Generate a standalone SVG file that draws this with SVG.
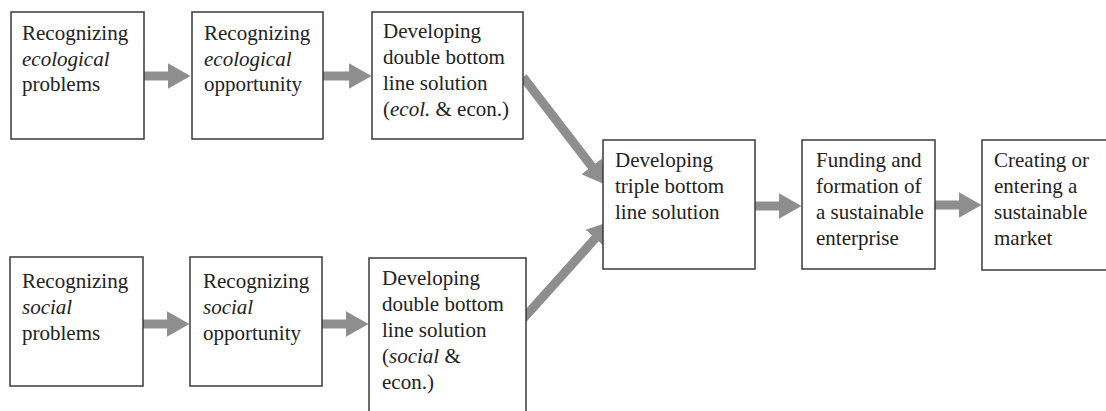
<svg xmlns="http://www.w3.org/2000/svg" width="1106" height="411" viewBox="0 0 1106 411">
<style>
.box{fill:#fff;stroke:#3a3a3a;stroke-width:1.5}
.t{font-family:'Liberation Serif','Times New Roman',Times,'DejaVu Serif','Noto Serif',serif;font-size:21px;fill:#222}
.i{font-style:italic}
.arr{stroke:#8e8e8e;stroke-width:9;fill:none;marker-end:url(#ah)}
</style>
<defs>
<marker id="ah" markerUnits="userSpaceOnUse" markerWidth="24" markerHeight="26" refX="0.5" refY="13" orient="auto">
<path d="M0,0 L23,13 L0,26 z" fill="#8e8e8e"/>
</marker>
</defs>
<rect width="1106" height="411" fill="#fff"/>
<g id="connectors">
<line class="arr" x1="144" y1="76" x2="168" y2="76"/>
<line class="arr" x1="323" y1="76" x2="349" y2="76"/>
<line class="arr" x1="143" y1="324" x2="167" y2="324"/>
<line class="arr" x1="322" y1="324" x2="346" y2="324"/>
<line class="arr" x1="523" y1="77" x2="592" y2="166.8"/>
<line class="arr" x1="522" y1="320" x2="595.6" y2="238.1"/>
<line class="arr" x1="755" y1="206" x2="779" y2="206"/>
<line class="arr" x1="935" y1="205" x2="959" y2="205"/>
</g>
<g id="n1">
<rect class="box" x="11" y="12" width="133" height="127"/>
<text class="t" x="22" y="40">Recognizing</text>
<text class="t i" x="22" y="65.5">ecological</text>
<text class="t" x="22" y="91">problems</text>
</g>
<g id="n2">
<rect class="box" x="192" y="12" width="131" height="127"/>
<text class="t" x="204" y="40">Recognizing</text>
<text class="t i" x="204" y="65.5">ecological</text>
<text class="t" x="204" y="91">opportunity</text>
</g>
<g id="n3">
<rect class="box" x="372" y="12" width="151" height="127"/>
<text class="t" x="383" y="38">Developing</text>
<text class="t" x="383" y="64">double bottom</text>
<text class="t" x="383" y="90">line solution</text>
<text class="t" x="383" y="116">(<tspan class="i">ecol.</tspan> &amp; econ.)</text>
</g>
<g id="n4">
<rect class="box" x="10" y="257" width="133" height="129"/>
<text class="t" x="22" y="288">Recognizing</text>
<text class="t i" x="22" y="314">social</text>
<text class="t" x="22" y="340">problems</text>
</g>
<g id="n5">
<rect class="box" x="190" y="257" width="132" height="129"/>
<text class="t" x="203" y="288">Recognizing</text>
<text class="t i" x="203" y="314">social</text>
<text class="t" x="203" y="340">opportunity</text>
</g>
<g id="n6">
<rect class="box" x="369" y="258" width="157" height="170"/>
<text class="t" x="382" y="285">Developing</text>
<text class="t" x="382" y="311">double bottom</text>
<text class="t" x="382" y="337">line solution</text>
<text class="t" x="382" y="363">(<tspan class="i">social</tspan> &amp;</text>
<text class="t" x="382" y="389">econ.)</text>
</g>
<g id="n7">
<rect class="box" x="603" y="140" width="152" height="129"/>
<text class="t" x="615" y="167">Developing</text>
<text class="t" x="615" y="193">triple bottom</text>
<text class="t" x="615" y="219">line solution</text>
</g>
<g id="n8">
<rect class="box" x="802" y="140" width="133" height="129"/>
<text class="t" x="816" y="167">Funding and</text>
<text class="t" x="816" y="193">formation of</text>
<text class="t" x="816" y="219">a sustainable</text>
<text class="t" x="816" y="245">enterprise</text>
</g>
<g id="n9">
<rect class="box" x="982" y="140" width="135" height="130"/>
<text class="t" x="994" y="167">Creating or</text>
<text class="t" x="994" y="193">entering a</text>
<text class="t" x="994" y="219">sustainable</text>
<text class="t" x="994" y="245">market</text>
</g>
</svg>
